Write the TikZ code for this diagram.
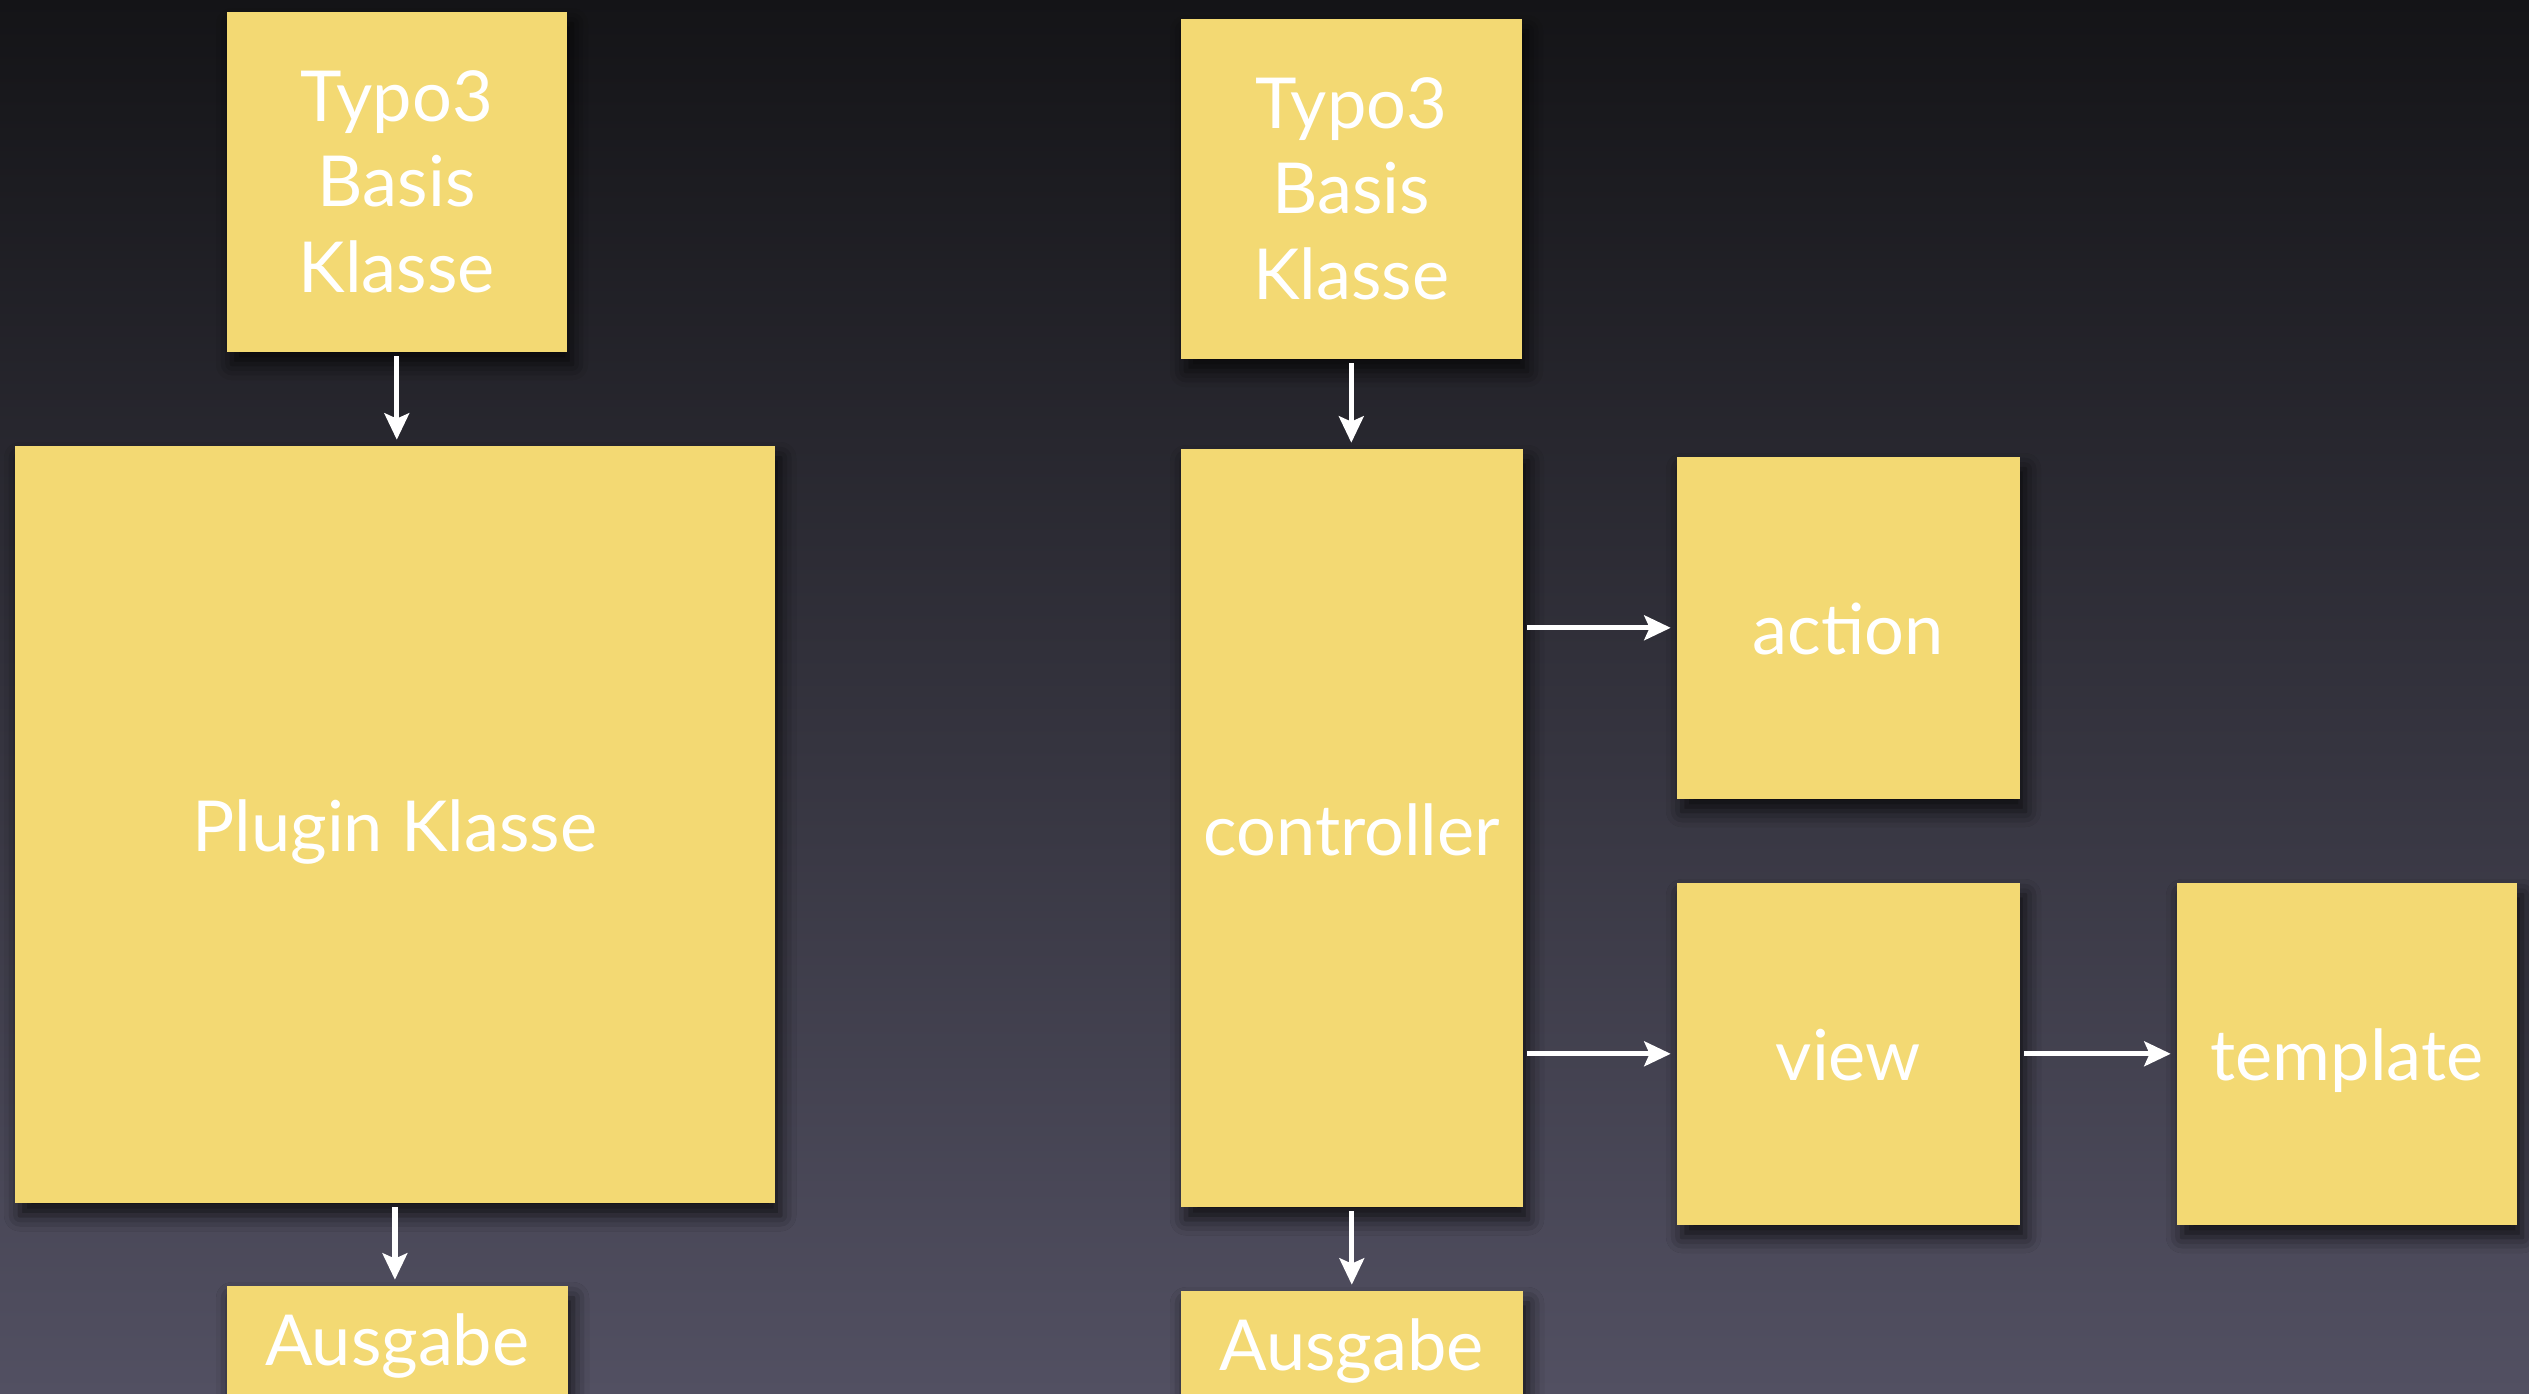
\documentclass[tikz,border=0pt]{standalone}
\usepackage{fontspec}
\setmainfont{Lato}
\usetikzlibrary{arrows.meta,shadows.blur}
\definecolor{bgtop}{RGB}{20,20,23}
\definecolor{bgbot}{RGB}{82,80,98}
\definecolor{notefill}{RGB}{243,217,115}
\begin{document}
\begin{tikzpicture}[x=0.01cm,y=-0.01cm,
  note/.style={fill=notefill, draw=none, inner sep=0pt, anchor=north west,
    blur shadow={shadow xshift=1.5pt, shadow yshift=-3.5pt, shadow blur radius=4.5pt, shadow opacity=75},
    text=white, font=\fontsize{20}{24.2}\selectfont, align=center},
  oneline/.style={text height=15.4pt, text depth=0pt},
  bottomline/.style={text height=15pt, text depth=15pt},
  arr/.style={draw=white, line width=1.5pt, -{Stealth[length=7.5pt,width=7pt,inset=1.5pt]},
    shorten <=1pt, shorten >=1.5pt}]
\useasboundingbox (0,0) rectangle (2529,1394);
\clip (0,0) rectangle (2529,1394);
\shade[top color=bgtop, bottom color=bgbot] (0,0) rectangle (2529,1394);

% left column
\node[note, minimum width=3.40cm, minimum height=3.40cm] (ltypo) at (226,11) {Typo3\\Basis\\Klasse};
\node[note, oneline, minimum width=7.60cm, minimum height=7.57cm] (lplug) at (14,445) {Plugin Klasse};
\node[note, bottomline, minimum width=3.41cm, minimum height=1.60cm] (laus) at (226,1285) {Ausgabe};

% right column
\node[note, minimum width=3.41cm, minimum height=3.40cm] (rtypo) at (1180,18) {Typo3\\Basis\\Klasse};
\node[note, oneline, minimum width=3.42cm, minimum height=7.58cm] (ctrl) at (1180,448) {controller};
\node[note, oneline, minimum width=3.43cm, minimum height=3.42cm] (act) at (1676,456) {action};
\node[note, oneline, minimum width=3.43cm, minimum height=3.42cm] (view) at (1676,882) {view};
\node[note, oneline, minimum width=3.40cm, minimum height=3.42cm] (tmpl) at (2176,882) {template};
\node[note, bottomline, minimum width=3.42cm, minimum height=1.60cm] (raus) at (1180,1290) {Ausgabe};

% connectors
\draw[arr] (ltypo.south) -- (ltypo.south |- lplug.north);
\draw[arr] (lplug.south) -- (lplug.south |- laus.north);
\draw[arr] (rtypo.south) -- (rtypo.south |- ctrl.north);
\draw[arr] (ctrl.south) -- (ctrl.south |- raus.north);
\draw[arr] (ctrl.east |- act.west) -- (act.west);
\draw[arr] (ctrl.east |- view.west) -- (view.west);
\draw[arr] (view.east) -- (view.east -| tmpl.west);
\end{tikzpicture}
\end{document}
